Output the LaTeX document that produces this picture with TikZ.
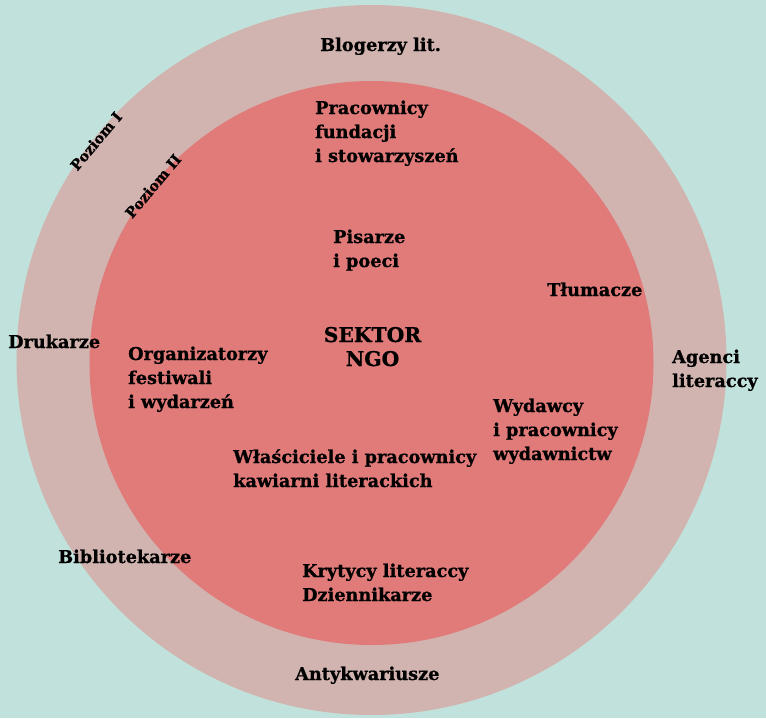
\documentclass[tikz,border=0pt]{standalone}
\usepackage{fontspec}
\setmainfont{DejaVu Serif}[BoldFeatures={FakeBold=0.8}]
\definecolor{bg}{HTML}{C1E2DC}
\definecolor{ring}{HTML}{D1B4B0}
\definecolor{core}{HTML}{E07B7A}
\begin{document}
\begin{tikzpicture}[x=1pt,y=-1pt,
  lbl/.style={inner sep=0pt, font=\fontsize{17.7}{24}\selectfont\bfseries, text=black},
  big/.style={inner sep=0pt, font=\fontsize{20.3}{24}\selectfont\bfseries, text=black},
  lvl/.style={inner sep=0pt, font=\fontsize{14.5}{16}\selectfont\bfseries, text=black, rotate=50}]
\fill[bg] (0,0) rectangle (766,718);
\useasboundingbox (0,0) rectangle (766,718);
\coordinate (oc) at (371.5,360);
\coordinate (ic) at (371.5,363);
\fill[ring] (oc) circle[radius=355];
\fill[core] (ic) circle[radius=282];

\node[lbl, anchor=base west] (blog) at (320,51) {Blogerzy lit.};
\node[lbl, anchor=base west] (prac) at (315,114) {\begin{tabular}[t]{@{}l@{}}Pracownicy\\fundacji\\i stowarzyszeń\end{tabular}};
\node[lbl, anchor=base west] (pis) at (333,243) {\begin{tabular}[t]{@{}l@{}}Pisarze\\i poeci\end{tabular}};
\node[big, anchor=base] (ngo) at (372.5,342) {\begin{tabular}[t]{@{}c@{}}SEKTOR\\NGO\end{tabular}};
\node[lbl, anchor=base west] (tlum) at (547,296) {Tłumacze};
\node[lbl, anchor=base west] (agen) at (672,363) {\begin{tabular}[t]{@{}l@{}}Agenci\\literaccy\end{tabular}};
\node[lbl, anchor=base west] (wyd) at (493,412) {\begin{tabular}[t]{@{}l@{}}Wydawcy\\i pracownicy\\wydawnictw\end{tabular}};
\node[lbl, anchor=base west] (druk) at (8,348) {Drukarze};
\node[lbl, anchor=base west] (org) at (128,360) {\begin{tabular}[t]{@{}l@{}}Organizatorzy\\festiwali\\i wydarzeń\end{tabular}};
\node[lbl, anchor=base west] (kaw) at (233,463) {\begin{tabular}[t]{@{}l@{}}Właściciele i pracownicy\\kawiarni literackich\end{tabular}};
\node[lbl, anchor=base west] (bib) at (58,563) {Bibliotekarze};
\node[lbl, anchor=base west] (kryt) at (302,577) {\begin{tabular}[t]{@{}l@{}}Krytycy literaccy\\Dziennikarze\end{tabular}};
\node[lbl, anchor=base west] (antyk) at (295,680) {Antykwariusze};

\node[lvl] (p1) at (96,141) {Poziom I};
\node[lvl] (p2) at (153,186) {Poziom II};
\end{tikzpicture}
\end{document}
